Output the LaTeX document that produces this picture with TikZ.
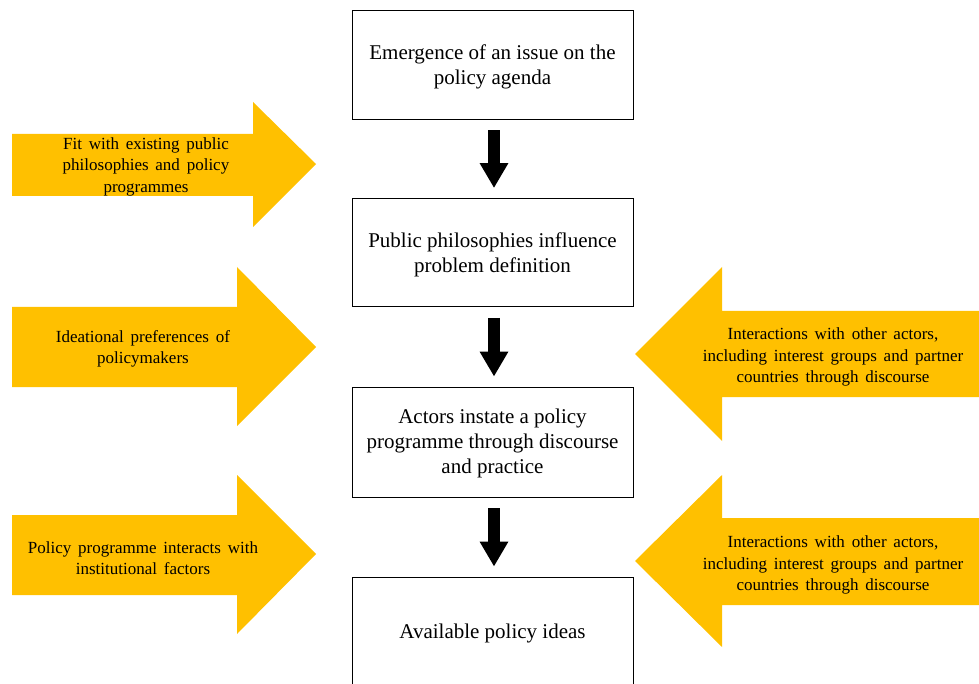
\documentclass[tikz,border=0pt]{standalone}
\usepackage{fontspec}
\setmainfont{Liberation Serif}
\usetikzlibrary{arrows.meta}
\definecolor{gold}{HTML}{FFC000}
\newcommand\myarrowfont{\fontsize{17}{21.5}\selectfont\spaceskip=0.4em plus 0.1em\relax}
\tikzset{
  stagebox/.style={draw=black, line width=0.9pt, fill=white, minimum width=281pt, align=center,
    font=\fontsize{21}{25}\selectfont, inner sep=0pt},
  stagetext/.style={align=center, font=\fontsize{21}{25}\selectfont, inner sep=0pt},
  flowarrow/.style={line width=12pt, -{Triangle[width=27pt,length=25pt]}},
  goldarrow/.style={fill=gold, draw=none},
  arrowtext/.style={align=center, font=\myarrowfont, inner sep=0pt}
}
\begin{document}
\begin{tikzpicture}[x=1pt,y=-1pt]
\useasboundingbox (0,0) rectangle (979,684);
% stage boxes
\node[stagebox, minimum height=109pt] (b1) at (492.5,64.5) {};
\node[stagetext] (t1) at (492.5,66.5) {Emergence of an issue on the\\policy agenda};
\node[stagebox, minimum height=108pt] (b2) at (492.5,252.5) {};
\node[stagetext] (t2) at (492.5,254.5) {Public philosophies influence\\problem definition};
\node[stagebox, minimum height=110pt] (b3) at (492.5,442) {};
\node[stagetext] (t3) at (492.5,443.5) {Actors instate a policy\\programme through discourse\\and practice};
\node[stagebox, minimum height=110pt] (b4) at (492.5,632) {};
\node[stagetext] (t4) at (492.5,633) {Available policy ideas};
% down arrows
\draw[flowarrow] ([xshift=1.5pt,yshift=-11pt]b1.south) -- ([xshift=1.5pt,yshift=10pt]b2.north);
\draw[flowarrow] ([xshift=1.5pt,yshift=-11pt]b2.south) -- ([xshift=1.5pt,yshift=10pt]b3.north);
\draw[flowarrow] ([xshift=1.5pt,yshift=-11pt]b3.south) -- ([xshift=1.5pt,yshift=10pt]b4.north);
% left gold arrows (pointing right)
\fill[goldarrow] (12,134) -- (253,134) -- (253,102) -- (316,164) -- (253,227) -- (253,196) -- (12,196) -- cycle;
\node[arrowtext] (l1) at (146,166.5) {Fit with existing public\\philosophies and policy\\programmes};
\fill[goldarrow] (12,307) -- (237,307) -- (237,267) -- (316,347) -- (237,426) -- (237,387) -- (12,387) -- cycle;
\node[arrowtext] (l2) at (143,349) {Ideational preferences of\\policymakers};
\fill[goldarrow] (12,515) -- (237,515) -- (237,475) -- (316,554) -- (237,634) -- (237,595) -- (12,595) -- cycle;
\node[arrowtext] (l3) at (143,558) {Policy programme interacts with\\institutional factors};
% right gold arrows (pointing left)
\fill[goldarrow] (979,311) -- (722,311) -- (722,267) -- (635,354) -- (722,441) -- (722,397) -- (979,397) -- cycle;
\node[arrowtext] (r1) at (833,357) {Interactions with other actors,\\including interest groups and partner\\countries through discourse};
\fill[goldarrow] (979,518) -- (722,518) -- (722,475) -- (635,561) -- (722,647) -- (722,605) -- (979,605) -- cycle;
\node[arrowtext] (r2) at (833,565) {Interactions with other actors,\\including interest groups and partner\\countries through discourse};
\end{tikzpicture}
\end{document}
